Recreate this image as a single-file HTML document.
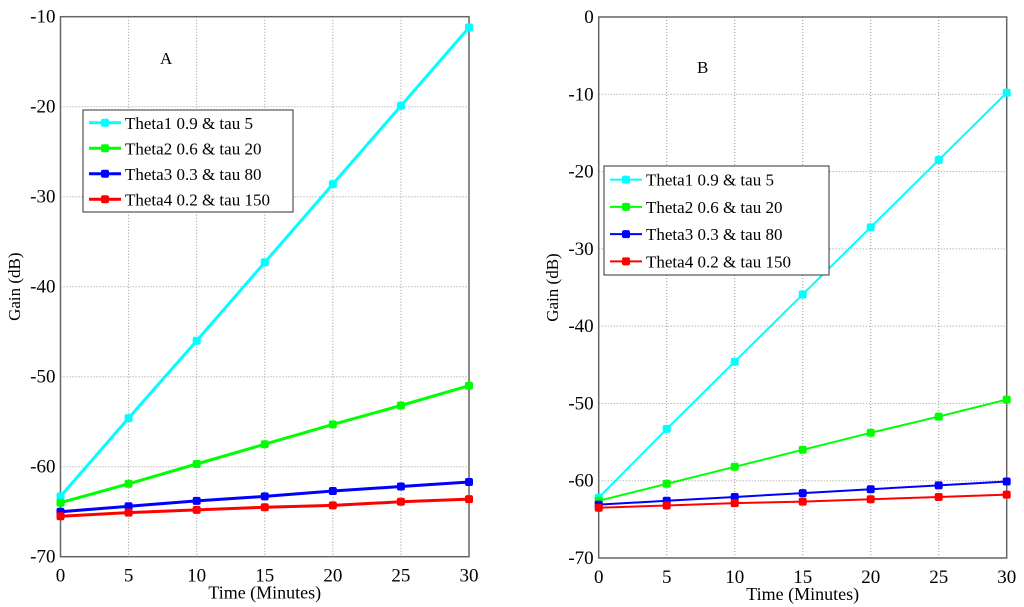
<!DOCTYPE html>
<html><head><meta charset="utf-8"><style>
body{margin:0;background:#fff}
svg{display:block;font-family:"Liberation Serif",serif}
</style></head><body>
<svg id="chart" width="1024" height="607"></svg>
<script>
const xTicks=[0,5,10,15,20,25,30];
const times=[0,5,10,15,20,25,30];
const seriesNames=["Theta1  0.9 & tau 5","Theta2  0.6 & tau 20","Theta3  0.3 & tau 80","Theta4  0.2 & tau 150"];
const colors=["#00ffff","#00ff00","#0000ff","#ff0000"];
const aTheta1=[-63.3,-54.6,-46,-37.3,-28.6,-19.9,-11.2];
const aTheta2=[-64,-61.9,-59.7,-57.5,-55.3,-53.2,-51];
const aTheta3=[-65,-64.4,-63.8,-63.3,-62.7,-62.2,-61.7];
const aTheta4=[-65.5,-65.1,-64.8,-64.5,-64.3,-63.9,-63.6];
const bTheta1=[-62.2,-53.3,-44.6,-35.9,-27.2,-18.5,-9.8];
const bTheta2=[-62.6,-60.4,-58.2,-56,-53.8,-51.7,-49.5];
const bTheta3=[-63.1,-62.6,-62.1,-61.6,-61.1,-60.6,-60.1];
const bTheta4=[-63.5,-63.2,-62.9,-62.7,-62.4,-62.1,-61.8];
const aYTicks=[-70,-60,-50,-40,-30,-20,-10];
const bYTicks=[-70,-60,-50,-40,-30,-20,-10,0];
const NS="http://www.w3.org/2000/svg";
const svg=document.getElementById('chart');
function mk(t,a,p){const e=document.createElementNS(NS,t);for(const k in a)e.setAttribute(k,a[k]);(p||svg).appendChild(e);return e;}
function panel(cfg){
 const g=mk('g',{});
 
 
 const xs=v=>cfg.x0+(v-0)/30*(cfg.x1-cfg.x0);
 const ys=v=>cfg.yb+(v-cfg.ymin)/(cfg.ymax-cfg.ymin)*(cfg.yt-cfg.yb);
 xTicks.forEach(t=>{
  const l=mk('line',{x1:xs(t),x2:xs(t),y1:cfg.yt,y2:cfg.yb,stroke:'#999','stroke-dasharray':'1,2','stroke-width':1},g);
  
  
  const tx=mk('text',{x:xs(t),y:cfg.yb+25,'text-anchor':'middle','font-size':19},g);
  tx.textContent=t;
  
  
 });
 cfg.yTicks.forEach(t=>{
  const l=mk('line',{x1:cfg.x0,x2:cfg.x1,y1:ys(t),y2:ys(t),stroke:'#999','stroke-dasharray':'1,2','stroke-width':1},g);
  
  
  const tx=mk('text',{x:cfg.x0-5,y:ys(t)+6,'text-anchor':'end','font-size':19},g);
  tx.textContent=t;
  
  
 });
 const r=mk('rect',{x:cfg.x0,y:cfg.yt,width:cfg.x1-cfg.x0,height:cfg.yb-cfg.yt,fill:'none',stroke:'#666','stroke-width':1.5},g);
 
 
 cfg.series.forEach((s,i)=>{
  const pl=mk('polyline',{points:times.map((t,j)=>xs(t)+','+ys(s[j])).join(' '),fill:'none',stroke:colors[i],'stroke-width':cfg.lw},g);
  
  
  times.forEach((t,j)=>{
   const m=mk('rect',{x:xs(t)-4,y:ys(s[j])-4,width:8,height:8,rx:2,fill:colors[i]},g);
   
   
  });
 });
 const xl=mk('text',{x:(cfg.x0+cfg.x1)/2,y:cfg.yb+42,'text-anchor':'middle','font-size':18},g);
 xl.textContent='Time (Minutes)';
 
 
 const yl=mk('text',{x:0,y:0,'text-anchor':'middle','font-size':17,transform:`translate(${cfg.ylx},${(cfg.yt+cfg.yb)/2}) rotate(-90)`},g);
 yl.textContent='Gain (dB)';
 
 
 const pt=mk('text',{x:cfg.lab[0],y:cfg.lab[1],'font-size':17},g);
 pt.textContent=cfg.label;
 
 
 const lg=mk('g',{},g);
 
 
 const L=cfg.leg;
 mk('rect',{x:L[0],y:L[1],width:L[2],height:L[3],fill:'#fff',stroke:'#333','stroke-width':1},lg);
 const step=L[3]/4;
 seriesNames.forEach((n,i)=>{
  const yy=L[1]+step*(i+0.5);
  const e=mk('g',{},lg);
  
  
  mk('line',{x1:L[0]+6,x2:L[0]+38,y1:yy,y2:yy,stroke:colors[i],'stroke-width':cfg.lw},e);
  mk('rect',{x:L[0]+18,y:yy-4,width:8,height:8,rx:2,fill:colors[i]},e);
  const t=mk('text',{x:L[0]+42,y:yy+6,'font-size':17,'xml:space':'preserve'},e);
  t.textContent=n;
 });
}
panel({name:'panel-a',x0:60.5,x1:469,yt:16.7,yb:556.7,ymin:-70,ymax:-10,yTicks:aYTicks,series:[aTheta1,aTheta2,aTheta3,aTheta4],lw:3,ylx:20,label:'A',lab:[160,64],leg:[83,110,210,102]});
panel({name:'panel-b',x0:598.7,x1:1006.7,yt:17,yb:558,ymin:-70,ymax:0,yTicks:bYTicks,series:[bTheta1,bTheta2,bTheta3,bTheta4],lw:2,ylx:558,label:'B',lab:[697,73],leg:[604,166,225,109]});
</script>
</body></html>
